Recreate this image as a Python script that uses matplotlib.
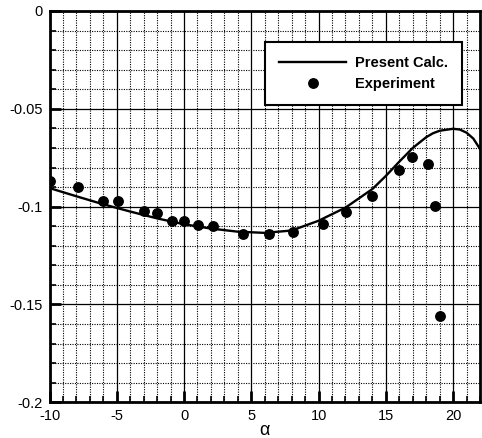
import numpy as np
import matplotlib
matplotlib.use('Agg')
import matplotlib.pyplot as plt
from matplotlib.ticker import MultipleLocator

plt.rcParams['font.family'] = ['Liberation Sans', 'DejaVu Sans']
plt.rcParams['axes.unicode_minus'] = False

# 計算結果 (Present Calc.)
alpha_calc = [-10, -8, -6, -4, -2, 0, 2, 4, 6, 8, 10, 12, 14, 15, 16, 17, 18,
              18.5, 19, 20, 20.5, 21, 21.5, 22]
cm_calc = [-0.0905, -0.0947, -0.0988, -0.1025, -0.1060, -0.1090, -0.1112, -0.1128,
           -0.1134, -0.1122, -0.1072, -0.1005, -0.0910, -0.0843, -0.0770, -0.0700,
           -0.0645, -0.0625, -0.0612, -0.0602, -0.0606, -0.0622, -0.0652, -0.0705]

# 實驗數據 (Experiment)
alpha_exp = [-9.94, -7.90, -6.04, -4.93, -2.95, -2.0, -0.91, 0.0, 1.06, 2.18, 4.41,
             6.34, 8.13, 10.36, 12.04, 13.96, 15.96, 16.97, 18.14, 18.64, 19.06]
cm_exp = [-0.0867, -0.0902, -0.0969, -0.0969, -0.1024, -0.1032, -0.1071, -0.1071,
          -0.1092, -0.1101, -0.1139, -0.1139, -0.1129, -0.1088, -0.1029, -0.0944,
          -0.0811, -0.0748, -0.0782, -0.0998, -0.156]

fig = plt.figure(figsize=(4.82, 4.38), dpi=100)
ax = fig.add_axes([0.1027, 0.0815, 0.8932, 0.8934])

ax.plot(alpha_calc, cm_calc, color='black', linewidth=1.7, label='Present Calc.', zorder=3)
ax.plot(alpha_exp, cm_exp, linestyle='none', marker='o', markersize=6.8,
        color='black', label='Experiment', zorder=4)

ax.set_xlim(-10, 22)
ax.set_ylim(-0.2, 0)
ax.xaxis.set_major_locator(MultipleLocator(5))
ax.xaxis.set_minor_locator(MultipleLocator(1))
ax.yaxis.set_minor_locator(MultipleLocator(0.01))
ax.set_yticks([0, -0.05, -0.1, -0.15, -0.2])
ax.set_yticklabels(['0', '-0.05', '-0.1', '-0.15', '-0.2'])

ax.grid(which='major', color='black', linestyle='-', linewidth=0.9)
ax.grid(which='minor', color='black', linestyle=(0, (1, 1.2)), linewidth=0.8)
ax.set_axisbelow(True)

ax.tick_params(which='major', direction='in', length=8, width=2, labelsize=10.5, pad=5)
ax.tick_params(which='minor', direction='in', length=4, width=1.2)
for sp in ax.spines.values():
    sp.set_linewidth(2)

ax.set_xlabel('α', fontsize=13, labelpad=-1)

leg = ax.legend(loc='upper right', bbox_to_anchor=(0.958, 0.921), borderaxespad=0,
                frameon=True, fancybox=False, edgecolor='black', framealpha=1,
                handlelength=4.6, handletextpad=0.6, labelspacing=0.5,
                borderpad=0.95, prop={'weight': 'bold', 'size': 10.5})
leg.get_frame().set_linewidth(1.5)

fig.savefig('out.png', dpi=100)
